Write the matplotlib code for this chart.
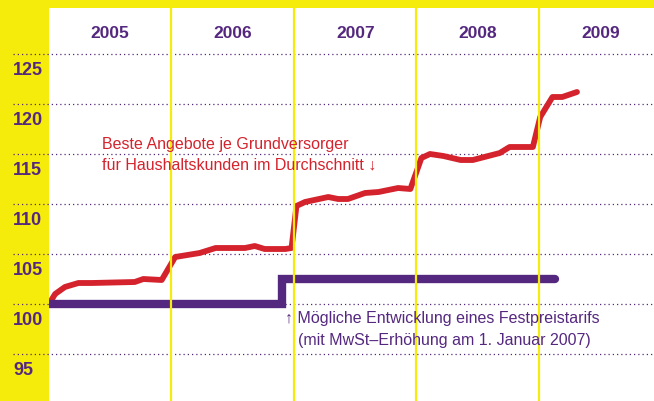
import matplotlib
matplotlib.use("Agg")
import matplotlib.pyplot as plt
import matplotlib.transforms as mtransforms

plt.rcParams["font.family"] = ["Liberation Sans Narrow", "Liberation Sans", "DejaVu Sans"]

YELLOW = "#f6ec0c"
PURPLE = "#55287f"
RED = "#d4232d"

# == data ==
years = [2005, 2006, 2007, 2008, 2009]
y_ticks = [95, 100, 105, 110, 115, 120, 125]

# Beste Angebote je Grundversorger (Index, Jan 2005 = 100)
best_x = [2005.00, 2005.05, 2005.13, 2005.24, 2005.35, 2005.70, 2005.77, 2005.92,
          2006.03, 2006.23, 2006.36, 2006.60, 2006.68, 2006.76, 2006.93, 2006.98,
          2007.02, 2007.09, 2007.28, 2007.36, 2007.44, 2007.58, 2007.69, 2007.77,
          2007.85, 2007.95, 2008.04, 2008.11, 2008.22, 2008.36, 2008.46, 2008.68,
          2008.76, 2008.95, 2009.01, 2009.11, 2009.19, 2009.31]
best_y = [100.0, 101.0, 101.7, 102.1, 102.1, 102.2, 102.5, 102.4,
          104.7, 105.1, 105.6, 105.6, 105.8, 105.5, 105.5, 105.6,
          109.8, 110.2, 110.7, 110.5, 110.5, 111.1, 111.2, 111.4,
          111.6, 111.5, 114.6, 115.0, 114.8, 114.4, 114.4, 115.1,
          115.7, 115.7, 118.7, 120.7, 120.7, 121.2]

# Festpreistarif mit MwSt-Erhoehung
fix_x = [2005.00, 2006.90, 2006.90, 2009.13]
fix_y = [100.0, 100.0, 102.5, 102.5]

fig = plt.figure(figsize=(6.54, 4.01), dpi=100, facecolor=YELLOW)
ax = fig.add_axes([49 / 654, 0, 605 / 654, 393 / 401])
ax.set_facecolor("white")
ax.set_xlim(2005, 2005 + 605 / 122.5)
ax.set_ylim(90.3, 129.6)
ax.set_xticks([])
ax.set_yticks([])
for s in ax.spines.values():
    s.set_visible(False)

# dotted grid, reaching into the yellow band
trans = mtransforms.blended_transform_factory(ax.transAxes, ax.transData)
for v in y_ticks:
    ax.plot([-36 / 605, 1], [v, v], transform=trans, clip_on=False,
            color=PURPLE, lw=0.9, linestyle=(0, (1, 2.4)), zorder=1)
    ax.text(-36 / 605, v - 1.6, str(v), transform=trans, ha="left", va="center",
            fontsize=13, fontweight="bold", color=PURPLE)

for yr in years:
    ax.text(yr + 0.5, 127.1, str(yr), ha="center", va="center",
            fontsize=12.5, fontweight="bold", color=PURPLE)

ax.plot(best_x, best_y, color=RED, lw=4.2, solid_joinstyle="round",
        solid_capstyle="round", zorder=2)
ax.plot(fix_x, fix_y, color=PURPLE, lw=6, solid_joinstyle="miter",
        solid_capstyle="round", zorder=3)

for yr in years[1:]:
    ax.axvline(yr, color=YELLOW, lw=1.6, zorder=4)

ax.text(2005.433, 116.0, "Beste Angebote je Grundversorger", color=RED,
        fontsize=11.5, ha="left", va="center", zorder=5)
ax.text(2005.433, 113.9, "für Haushaltskunden im Durchschnitt ↓", color=RED,
        fontsize=11.5, ha="left", va="center", zorder=5)

ax.text(2006.927, 98.6, "↑ Mögliche Entwicklung eines Festpreistarifs", color=PURPLE,
        fontsize=11.5, ha="left", va="center", zorder=5)
ax.text(2007.033, 96.4, "(mit MwSt–Erhöhung am 1. Januar 2007)", color=PURPLE,
        fontsize=11.5, ha="left", va="center", zorder=5)

fig.savefig("out.png", dpi=100, facecolor=YELLOW)
